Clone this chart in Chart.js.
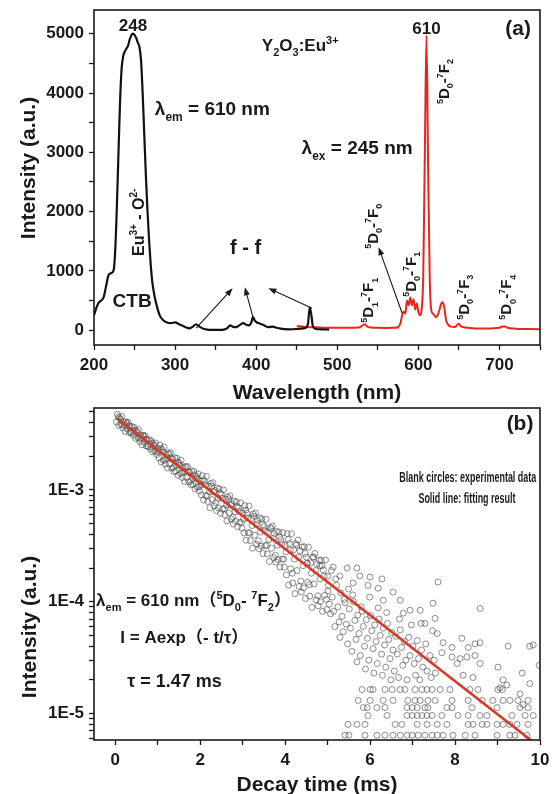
<!DOCTYPE html>
<html>
<head>
<meta charset="utf-8">
<script src="https://cdn.jsdelivr.net/npm/chart.js@4.4.0/dist/chart.umd.min.js"></script>
<style>
  html, body { margin: 0; padding: 0; background: #fff; overflow: hidden; }
  #wrapA { position: absolute; left: 0; top: 0; width: 552px; height: 405px; }
  #wrapB { position: absolute; left: 0; top: 405px; width: 552px; height: 400px; }
</style>
</head>
<body>
<div id="wrapA"><canvas id="chartA" width="552" height="405"></canvas></div>
<div id="wrapB"><canvas id="chartB" width="552" height="400"></canvas></div>
<script>
// ---- panel (a): excitation (black) and emission (red) spectra ----
const excWavelength = [200,203,206,209,212,215,218,221,224,226,228,230,232,234,236,238,240,242,244,246,
  248,250,252,254,256,258,260,262,264,266,268,270,272,275,278,281,285,290,295,300,
  305,310,315,318,322,326,330,335,340,345,350,355,360,364,368,371,375,380,384,388,
  391,394,396,398,401,405,410,415,420,425,430,440,450,458,462,464,466,468,470,474,480,490];
const excIntensity = [250,380,470,500,560,750,930,960,1000,1300,2000,2900,3800,4400,4620,4700,4750,4800,4900,4970,
  5000,4980,4930,4850,4780,4550,4000,3300,2600,2000,1500,1100,800,550,380,250,170,130,120,130,
  100,70,40,30,60,100,60,25,10,5,5,5,10,30,80,60,50,90,120,90,
  80,130,220,170,130,110,80,50,60,40,25,15,20,30,50,120,380,260,60,20,15,10];

const emWavelength = [450,460,470,480,490,500,510,520,527,531,534,537,542,550,560,570,
  575,578,580,582,584,586,588,590,592,594,596,598,600,602,604,606,
  608,610,612,614,616,618,620,622,624,626,628,630,632,634,636,640,
  645,648,650,652,656,660,670,680,690,700,704,707,710,720,730,740,750];
const emIntensity = [70,55,50,45,40,40,40,42,45,80,100,60,45,40,38,40,
  50,120,250,310,280,500,420,550,420,520,350,450,310,250,350,900,
  3000,4970,2800,900,330,280,240,220,260,340,440,470,380,180,110,60,
  55,90,110,70,50,40,30,28,30,40,60,60,40,25,20,18,15];

const wavelengthTicks = [200,250,300,350,400,450,500,550,600,650,700,750];
const spectrumTicks = [0,500,1000,1500,2000,2500,3000,3500,4000,4500,5000];

// ---- panel (b): decay curve (blank circles) and single-exponential fit ----
const upperTime = [0.05,0.10,0.15,0.20,0.25,0.30,0.35,0.40,0.45,0.50,0.55,0.60,0.65,0.70,0.75,0.80,0.85,0.90,0.95,1.00,
  1.05,1.10,1.15,1.20,1.25,1.30,1.35,1.40,1.45,1.50,1.55,1.60,1.65,1.70,1.75,1.80,1.85,1.90,1.95,2.00,
  2.05,2.10,2.15,2.20,2.25,2.30,2.35,2.40,2.45,2.50,2.55,2.60,2.65,2.70,2.75,2.80,2.85,2.90,2.95,3.00,
  3.05,3.10,3.15,3.20,3.25,3.30,3.35,3.40,3.45,3.50,3.55,3.60,3.65,3.70,3.75,3.80,3.85,3.90,3.95,4.00,
  4.05,4.10,4.15,4.20,4.25,4.30,4.35,4.40,4.45,4.50,4.55,4.60,4.65,4.70,4.75,4.80,4.85,4.90,4.95,5.00];
const upperIntensity = [4.74e-3,4.41e-3,4.55e-3,4.04e-3,4.06e-3,4.03e-3,3.68e-3,3.69e-3,3.61e-3,3.35e-3,
  3.46e-3,3.07e-3,3.08e-3,3.06e-3,2.80e-3,2.81e-3,2.74e-3,2.55e-3,2.63e-3,2.34e-3,
  2.52e-3,2.29e-3,2.42e-3,2.08e-3,2.14e-3,2.15e-3,1.90e-3,1.94e-3,1.92e-3,1.74e-3,
  1.84e-3,1.58e-3,1.62e-3,1.62e-3,1.44e-3,1.48e-3,1.46e-3,1.32e-3,1.39e-3,1.20e-3,
  1.34e-3,1.20e-3,1.32e-3,1.08e-3,1.14e-3,1.16e-3,9.90e-4,1.04e-3,1.02e-3,9.09e-4,
  1.00e-3,8.19e-4,8.65e-4,8.85e-4,7.54e-4,7.93e-4,7.80e-4,6.91e-4,7.64e-4,6.22e-4,
  7.24e-4,6.19e-4,7.18e-4,5.53e-4,6.08e-4,6.24e-4,5.36e-4,5.61e-4,5.51e-4,4.70e-4,
  5.46e-4,4.20e-4,4.61e-4,4.75e-4,4.07e-4,4.26e-4,4.19e-4,3.58e-4,4.15e-4,3.20e-4,
  4.07e-4,3.31e-4,4.06e-4,2.91e-4,3.31e-4,3.56e-4,2.86e-4,3.09e-4,3.10e-4,2.51e-4,
  3.08e-4,2.22e-4,2.51e-4,2.70e-4,2.18e-4,2.35e-4,2.35e-4,1.92e-4,2.36e-4,1.69e-4];
const lowerTime = [0.03,0.08,0.13,0.18,0.23,0.28,0.33,0.38,0.43,0.48,0.53,0.58,0.63,0.68,0.73,0.78,0.83,0.88,0.93,0.98,
  1.03,1.08,1.13,1.18,1.23,1.28,1.33,1.38,1.43,1.48,1.53,1.58,1.63,1.68,1.73,1.78,1.83,1.88,1.93,1.98,
  2.03,2.08,2.13,2.18,2.23,2.28,2.33,2.38,2.43,2.48,2.53,2.58,2.63,2.68,2.73,2.78,2.83,2.88,2.93,2.98,
  3.03,3.08,3.13,3.18,3.23,3.28,3.33,3.38,3.43,3.48,3.53,3.58,3.63,3.68,3.73,3.78,3.83,3.88,3.93,3.98,
  4.03,4.08,4.13,4.18,4.23,4.28,4.33,4.38,4.43,4.48,4.53,4.58,4.63,4.68,4.73,4.78,4.83,4.88,4.93,4.98];
const lowerIntensity = [4.05e-3,3.78e-3,3.86e-3,3.57e-3,3.34e-3,3.51e-3,3.26e-3,3.21e-3,3.08e-3,2.87e-3,
  2.94e-3,2.71e-3,2.53e-3,2.67e-3,2.47e-3,2.44e-3,2.33e-3,2.19e-3,2.23e-3,2.07e-3,
  1.93e-3,1.78e-3,1.85e-3,1.70e-3,1.57e-3,1.70e-3,1.56e-3,1.46e-3,1.47e-3,1.35e-3,
  1.40e-3,1.29e-3,1.19e-3,1.29e-3,1.18e-3,1.11e-3,1.12e-3,1.02e-3,1.06e-3,9.80e-4,
  9.02e-4,8.13e-4,8.86e-4,7.88e-4,6.93e-4,8.19e-4,7.20e-4,6.52e-4,6.89e-4,6.17e-4,
  6.75e-4,5.99e-4,5.28e-4,6.23e-4,5.48e-4,4.96e-4,5.24e-4,4.69e-4,5.13e-4,4.55e-4,
  4.12e-4,3.55e-4,4.16e-4,3.52e-4,3.01e-4,3.94e-4,3.27e-4,2.98e-4,3.14e-4,2.70e-4,
  3.17e-4,2.67e-4,2.29e-4,3.00e-4,2.48e-4,2.26e-4,2.38e-4,2.05e-4,2.41e-4,2.04e-4,
  1.74e-4,1.41e-4,1.97e-4,1.47e-4,1.18e-4,1.90e-4,1.37e-4,1.22e-4,1.33e-4,1.07e-4,
  1.49e-4,1.12e-4,8.90e-5,1.44e-4,1.04e-4,9.20e-5,1.00e-4,8.20e-5,1.14e-4,8.50e-5];
const nearTime = [0.12,0.22,0.32,0.42,0.52,0.62,0.72,0.82,0.92,1.02,1.12,1.22,1.32,1.42,1.52,1.62,1.72,1.82,1.92,2.02,
  2.12,2.22,2.32,2.42,2.52,2.62,2.72,2.82,2.92,3.02,3.12,3.22,3.32,3.42,3.52,3.62,3.72,3.82,3.92,4.02,
  4.12,4.22,4.32,4.42,4.52,4.62,4.72,4.82,4.92,5.02];
const nearIntensity = [4.28e-3,3.84e-3,3.73e-3,3.35e-3,3.26e-3,2.92e-3,2.84e-3,2.55e-3,2.48e-3,2.22e-3,
  2.18e-3,1.93e-3,1.90e-3,1.68e-3,1.66e-3,1.46e-3,1.44e-3,1.27e-3,1.26e-3,1.11e-3,
  1.11e-3,9.6e-4,9.6e-4,8.4e-4,8.4e-4,7.3e-4,7.3e-4,6.4e-4,6.4e-4,5.5e-4,
  5.6e-4,4.8e-4,4.9e-4,4.2e-4,4.3e-4,3.6e-4,3.7e-4,3.2e-4,3.3e-4,2.8e-4,
  2.9e-4,2.4e-4,2.5e-4,2.1e-4,2.2e-4,1.8e-4,1.9e-4,1.6e-4,1.7e-4,1.4e-4];
const midTime = [0.07,0.17,0.27,0.37,0.47,0.57,0.67,0.77,0.87,0.97,1.07,1.17,1.27,1.37,1.47,1.57,1.67,1.77,1.87,1.97,
  2.07,2.17,2.27,2.37,2.47,2.57,2.67,2.77,2.87,2.97,3.07,3.17,3.27,3.37,3.47,3.57,3.67,3.77,3.87,3.97,
  4.07,4.17,4.27,4.37,4.47,4.57,4.67,4.77,4.87,4.97];
const midIntensity = [4.5e-3,3.8e-3,3.95e-3,3.28e-3,3.42e-3,2.89e-3,3.04e-3,2.46e-3,2.63e-3,2.18e-3,
  2.35e-3,1.84e-3,2.08e-3,1.58e-3,1.78e-3,1.42e-3,1.59e-3,1.19e-3,1.36e-3,1.06e-3,
  1.23e-3,8.9e-4,1.08e-3,7.7e-4,9.3e-4,6.8e-4,8.3e-4,5.7e-4,7.1e-4,5.1e-4,
  6.6e-4,4.1e-4,5.8e-4,3.5e-4,4.9e-4,3.2e-4,4.5e-4,2.6e-4,3.8e-4,2.4e-4,
  3.6e-4,1.8e-4,3.2e-4,1.53e-4,2.7e-4,1.42e-4,2.5e-4,1.13e-4,2.1e-4,1.05e-4];
const cloudTime = [5.01,5.04,5.07,5.09,5.11,5.14,5.17,5.19,5.21,5.24,5.27,5.29,5.31,5.34,5.37,5.39,
  5.41,5.44,5.47,5.49,5.51,5.54,5.57,5.59,5.61,5.64,5.67,5.69,5.71,5.74,5.77,5.79,
  5.81,5.84,5.87,5.89,5.91,5.94,5.97,5.99,6.01,6.04,6.07,6.09,6.11,6.14,6.17,6.19,
  6.21,6.24,6.27,6.29,6.31,6.34,6.37,6.39,6.41,6.44,6.47,6.49,6.51,6.54,6.57,
  6.61,6.64,6.67,6.69,6.71,6.74,6.77,6.81,6.84,6.87,6.91,6.94,6.97,
  7.01,7.04,7.07,7.11,7.14,7.17,7.21,7.24,7.31,7.34,7.41,7.44,7.47,7.51,7.54];
const cloudIntensity = [1.25e-4,9.5e-5,7.8e-5,1.9e-4,1.1e-4,8.2e-5,6.0e-5,1.6e-4,1.4e-4,9.0e-5,6.6e-5,4.8e-5,1.2e-4,7.4e-5,5.4e-5,1.05e-4,
  9.8e-5,6.3e-5,4.2e-5,1.3e-4,8.6e-5,5.8e-5,3.6e-5,1.15e-4,1.0e-4,6.8e-5,4.6e-5,2.9e-5,7.6e-5,5.2e-5,3.3e-5,9.0e-5,
  8.2e-5,6.0e-5,4.0e-5,2.5e-5,6.9e-5,4.7e-5,3.0e-5,1.1e-4,7.5e-5,5.5e-5,3.8e-5,2.3e-5,6.2e-5,4.4e-5,2.8e-5,8.8e-5,
  7.0e-5,5.0e-5,3.4e-5,2.2e-5,5.8e-5,4.1e-5,2.6e-5,8.0e-5,6.4e-5,4.6e-5,3.1e-5,2.0e-5,5.3e-5,3.7e-5,2.4e-5,
  4.9e-5,3.4e-5,2.1e-5,7.0e-5,5.6e-5,3.9e-5,2.7e-5,4.4e-5,3.0e-5,2.0e-5,4.8e-5,3.3e-5,6.2e-5,
  4.0e-5,2.8e-5,2.2e-5,4.5e-5,3.1e-5,2.0e-5,3.7e-5,2.6e-5,4.2e-5,2.4e-5,3.3e-5,2.1e-5,5.5e-5,3.0e-5,2.3e-5];
const sparseTime = [4.52,4.82,5.13,5.46,5.69,5.29,5.76,6.00,6.28,5.60,
  5.95,6.19,6.54,6.71,6.94,7.18,6.31,6.78,7.20,7.29,
  7.53,7.60,7.48,8.59,7.58,7.72,8.16,8.59,8.47,7.93,
  8.31,9.25,9.76,7.69,7.93,8.12,8.47,8.28,8.05,8.59,
  9.01,9.58,8.19,8.42,9.13,9.76,9.22,9.06,9.53,9.98,9.84,9.60];
const sparseIntensity = [2.2e-4,2.1e-4,2.04e-4,2.0e-4,2.0e-4,1.7e-4,1.7e-4,1.66e-4,1.6e-4,1.47e-4,
  1.4e-4,1.32e-4,1.22e-4,1.03e-4,8.4e-5,8.4e-5,1.03e-4,7.9e-5,6.4e-5,6.4e-5,
  7.1e-5,1.5e-4,9.7e-5,8.7e-5,5.2e-5,4.3e-5,4.7e-5,4.3e-5,4.2e-5,3.9e-5,
  3.9e-5,4.0e-5,4.0e-5,3.5e-5,3.2e-5,3.1e-5,3.3e-5,3.2e-5,2.8e-5,2.8e-5,
  2.6e-5,2.3e-5,2.2e-5,2.1e-5,2.0e-5,1.85e-5,1.8e-5,1.7e-5,1.5e-5,2.7e-5,4.1e-5,1.2e-5];
// late-time counts fall on a few discrete levels
const floorLevels = [6.4e-6, 8.0e-6, 9.6e-6, 1.13e-5, 1.31e-5, 1.64e-5];
const floorTimes = [
  [5.41,5.50,5.88,6.16,6.35,6.54,6.71,6.87,6.99,7.13,7.29,7.46,7.58,7.72,7.95,8.24,8.47,8.99,9.29,9.41,9.69],
  [5.48,5.69,5.88,6.59,6.75,7.11,7.34,7.58,7.81,8.31,8.42,8.64,8.75,8.99,9.13,9.29,9.46,9.72],
  [5.95,6.40,6.87,6.99,7.11,7.22,7.34,7.46,7.69,8.07,8.31,8.59,8.75,9.34,9.65,9.84],
  [5.84,5.93,6.16,6.35,6.87,6.99,7.11,7.29,7.36,7.81,7.93,8.40,8.99,9.53,9.72],
  [5.72,6.00,6.31,6.54,6.89,7.06,7.18,7.36,7.53,7.93,8.31,8.64,8.89,9.13,9.29,9.48,9.72],
  [5.81,6.00,6.07,6.35,6.52,6.71,6.82,7.06,7.22,7.34,7.46,7.65,7.88,8.35,8.54,9.01,9.11]
];
const fitTime = [0.05, 9.78];
const fitIntensity = [4.35e-3, 5.8e-6];

const decayTimeTicks = [0,1,2,3,4,5,6,7,8,9,10];
// log axis: minor ticks at 2..9 of each decade
const decayTicks = [6e-6,7e-6,8e-6,9e-6,1e-5,2e-5,3e-5,4e-5,5e-5,6e-5,7e-5,8e-5,9e-5,
  1e-4,2e-4,3e-4,4e-4,5e-4,6e-4,7e-4,8e-4,9e-4,1e-3,2e-3,3e-3,4e-3,5e-3];

// ---------------------------------------------------------------------------
const FONT = '"Liberation Sans", Arial, Helvetica, "Noto Sans CJK SC", sans-serif';
const INK = '#1a1a1a';
const pairs = (xs, ys) => xs.map((x, i) => ({ x, y: ys[i] }));
const useTicks = list => s => { s.ticks = list.map(v => ({ value: v })); };

// "_x" / "_{xy}" = subscript, "^x" / "^{xy}" = superscript
function parseRich(s) {
  const out = [];
  let buf = '', i = 0;
  while (i < s.length) {
    const c = s[i];
    if (c === '_' || c === '^') {
      if (buf) { out.push({ t: buf, k: 0 }); buf = ''; }
      let t;
      if (s[i + 1] === '{') { const j = s.indexOf('}', i); t = s.slice(i + 2, j); i = j + 1; }
      else { t = s[i + 1]; i += 2; }
      out.push({ t, k: c === '_' ? 1 : -1 });
    } else { buf += c; i++; }
  }
  if (buf) out.push({ t: buf, k: 0 });
  return out;
}

function drawRich(ctx, s, x, y, size, align, rotate, sx) {
  const parts = parseRich(s);
  const small = Math.round(size * 0.62);
  const fontOf = k => `bold ${k ? small : size}px ${FONT}`;
  let w = 0;
  parts.forEach(p => { ctx.font = fontOf(p.k); p.w = ctx.measureText(p.t).width; w += p.w; });
  ctx.save();
  ctx.translate(x, y);
  if (rotate) ctx.rotate(rotate * Math.PI / 180);
  if (sx) ctx.scale(sx, 1);
  let cx = align === 'left' ? 0 : align === 'right' ? -w : -w / 2;
  const base = size * 0.36;
  ctx.textAlign = 'left';
  ctx.textBaseline = 'alphabetic';
  ctx.fillStyle = INK;
  parts.forEach(p => {
    ctx.font = fontOf(p.k);
    const dy = p.k === 1 ? size * 0.28 : p.k === -1 ? -size * 0.42 : 0;
    ctx.fillText(p.t, cx, base + dy);
    cx += p.w;
  });
  ctx.restore();
}

function drawArrow(ctx, x0, y0, x1, y1) {
  const a = Math.atan2(y1 - y0, x1 - x0), L = 8, W = 3;
  const c = Math.cos(a), s = Math.sin(a);
  ctx.beginPath();
  ctx.moveTo(x0, y0);
  ctx.lineTo(x1 - c * L * 0.7, y1 - s * L * 0.7);
  ctx.stroke();
  ctx.beginPath();
  ctx.moveTo(x1, y1);
  ctx.lineTo(x1 - c * L + s * W, y1 - s * L - c * W);
  ctx.lineTo(x1 - c * L - s * W, y1 - s * L + c * W);
  ctx.closePath();
  ctx.fill();
}

// frame around the plot area, arrows and text labels (data coordinates, or canvas px/py)
function notesPlugin(items, arrows) {
  return {
    id: 'notes',
    afterDraw(chart) {
      const { ctx, chartArea: a, scales } = chart;
      const px = v => scales.x.getPixelForValue(v);
      const py = v => scales.y.getPixelForValue(v);
      ctx.save();
      ctx.strokeStyle = INK;
      ctx.fillStyle = INK;
      ctx.lineWidth = 1.6;
      ctx.strokeRect(a.left, a.top, a.right - a.left, a.bottom - a.top);
      ctx.lineWidth = 1.1;
      arrows.forEach(ar => drawArrow(ctx, px(ar.from[0]), py(ar.from[1]), px(ar.to[0]), py(ar.to[1])));
      items.forEach(n => {
        const x = n.px != null ? n.px : px(n.x);
        const y = n.py != null ? n.py : py(n.y);
        drawRich(ctx, n.text, x, y, n.size, n.align || 'center', n.rotate || 0, n.sx);
      });
      ctx.restore();
    }
  };
}

const tickFont = { family: FONT, size: 17, weight: 'bold' };
const titleFont = { family: FONT, size: 21, weight: 'bold', lineHeight: 1 };
const tickGrid = { drawOnChartArea: false, tickLength: 5, tickWidth: 1.3, tickColor: INK };
// fixed axis boxes, no automatic label overflow padding
const fixX = h => s => { s.height = h; s.paddingLeft = 0; s.paddingRight = 0; };
const fixY = w => s => { s.width = w; s.paddingTop = 0; s.paddingBottom = 0; };

// ---- chart (a) ----
const notesA = [
  { text: 'Intensity (a.u.)', px: 27, py: 168, size: 21, rotate: -90 },
  { text: '248', x: 248, y: 5150, size: 17 },
  { text: '610', x: 610, y: 5100, size: 17 },
  { text: '(a)', x: 723, y: 5100, size: 21 },
  { text: 'Y_2O_3:Eu^{3+}', x: 407, y: 4816, size: 17, align: 'left' },
  { text: 'λ_{em} = 610 nm', x: 275, y: 3740, size: 19, align: 'left' },
  { text: 'λ_{ex} = 245 nm', x: 456, y: 3082, size: 19, align: 'left' },
  { text: 'CTB', x: 247, y: 505, size: 19 },
  { text: 'f - f', x: 387, y: 1398, size: 20 },
  { text: 'Eu^{3+} - O^{2-}', x: 254, y: 1819, size: 16, rotate: -90 },
  { text: '^5D_0-^7F_2', x: 631, y: 4193, size: 15, rotate: -90 },
  { text: '^5D_0-^7F_0', x: 543, y: 1751, size: 15, rotate: -90 },
  { text: '^5D_1-^7F_1', x: 538, y: 505, size: 15, rotate: -90 },
  { text: '^5D_0-^7F_1', x: 590, y: 943, size: 15, rotate: -90 },
  { text: '^5D_0-^7F_3', x: 656, y: 556, size: 15, rotate: -90 },
  { text: '^5D_0-^7F_4', x: 708, y: 556, size: 15, rotate: -90 }
];
const arrowsA = [
  { from: [326, 34], to: [371, 707] },
  { from: [397, 168], to: [386, 724] },
  { from: [469, 370], to: [415, 707] },
  { from: [580, 286], to: [551, 1398] }
];

new Chart(document.getElementById('chartA'), {
  type: 'line',
  data: {
    datasets: [
      { data: pairs(excWavelength, excIntensity), borderColor: '#111111', borderWidth: 2.2,
        pointRadius: 0, cubicInterpolationMode: 'monotone' },
      { data: pairs(emWavelength, emIntensity), borderColor: '#e8261c', borderWidth: 2,
        pointRadius: 0, cubicInterpolationMode: 'monotone' }
    ]
  },
  options: {
    responsive: false, animation: false, devicePixelRatio: 1,
    layout: { autoPadding: false, padding: { left: 0, right: 12, top: 10, bottom: 0 } },
    plugins: { legend: { display: false }, tooltip: { enabled: false } },
    scales: {
      x: {
        type: 'linear', min: 200, max: 750,
        afterBuildTicks: useTicks(wavelengthTicks),
        border: { display: false }, grid: tickGrid,
        ticks: { autoSkip: false, maxRotation: 0, padding: 5, color: INK, font: tickFont,
                 callback: v => (v % 100 === 0 ? String(v) : '') },
        title: { display: true, text: 'Wavelength (nm)', color: INK, font: titleFont, padding: { top: 0, bottom: 1 } },
        afterFit: fixX(60)
      },
      y: {
        type: 'linear', min: -250, max: 5400,
        afterBuildTicks: useTicks(spectrumTicks),
        border: { display: false }, grid: tickGrid,
        ticks: { autoSkip: false, padding: 5, color: INK, font: tickFont,
                 callback: v => (v % 1000 === 0 ? String(v) : '') },
        afterFit: fixY(94)
      }
    }
  },
  plugins: [notesPlugin(notesA, arrowsA)]
});

// ---- chart (b) ----
const decayPoints = [
  ...pairs(upperTime, upperIntensity),
  ...pairs(lowerTime, lowerIntensity),
  ...pairs(nearTime, nearIntensity),
  ...pairs(midTime, midIntensity),
  ...pairs(cloudTime, cloudIntensity),
  ...pairs(sparseTime, sparseIntensity),
  ...floorTimes.flatMap((ts, i) => ts.map(t => ({ x: t, y: floorLevels[i] })))
];

const notesB = [
  { text: 'Intensity (a.u.)', px: 28, py: 222, size: 21, rotate: -90 },
  { text: '(b)', x: 9.53, y: 3.99e-3, size: 21 },
  { text: 'Blank circles: experimental data', x: 8.3, y: 1.31e-3, size: 14, sx: 0.64 },
  { text: 'Solid line: fitting result', x: 8.28, y: 8.47e-4, size: 14, sx: 0.64 },
  { text: 'λ_{em} = 610 nm（^5D_0- ^7F_2）', x: -0.45, y: 1.03e-4, size: 17, align: 'left' },
  { text: 'I = Aexp（- t/τ）', x: 0.12, y: 4.8e-5, size: 17, align: 'left' },
  { text: 'τ = 1.47 ms', x: 0.28, y: 1.98e-5, size: 18, align: 'left' }
];

new Chart(document.getElementById('chartB'), {
  type: 'scatter',
  data: {
    datasets: [
      { data: pairs(fitTime, fitIntensity), showLine: true, borderColor: '#d93a26', borderWidth: 2.6,
        pointRadius: 0, order: 0 },
      { data: decayPoints, pointRadius: 3, borderWidth: 0.9, borderColor: 'rgba(75,75,75,0.7)',
        backgroundColor: 'rgba(0,0,0,0)', order: 1 }
    ]
  },
  options: {
    responsive: false, animation: false, devicePixelRatio: 1,
    layout: { autoPadding: false, padding: { left: 0, right: 12, top: 3, bottom: 0 } },
    plugins: { legend: { display: false }, tooltip: { enabled: false } },
    scales: {
      x: {
        type: 'linear', min: -0.5, max: 10,
        afterBuildTicks: useTicks(decayTimeTicks),
        border: { display: false }, grid: tickGrid,
        ticks: { autoSkip: false, maxRotation: 0, padding: 5, color: INK, font: tickFont,
                 callback: v => (v % 2 === 0 ? String(v) : '') },
        title: { display: true, text: 'Decay time (ms)', color: INK, font: titleFont, padding: { top: 0, bottom: 9 } },
        afterFit: fixX(65)
      },
      y: {
        type: 'logarithmic', min: 5.8e-6, max: 5.4e-3,
        afterBuildTicks: useTicks(decayTicks),
        border: { display: false }, grid: tickGrid,
        ticks: { autoSkip: false, padding: 5, color: INK, font: tickFont,
                 callback: v => {
                   const e = Math.log10(v);
                   return Math.abs(e - Math.round(e)) < 1e-6 ? '1E' + Math.round(e) : '';
                 } },
        afterFit: fixY(94)
      }
    }
  },
  plugins: [notesPlugin(notesB, [])]
});
</script>
</body>
</html>
